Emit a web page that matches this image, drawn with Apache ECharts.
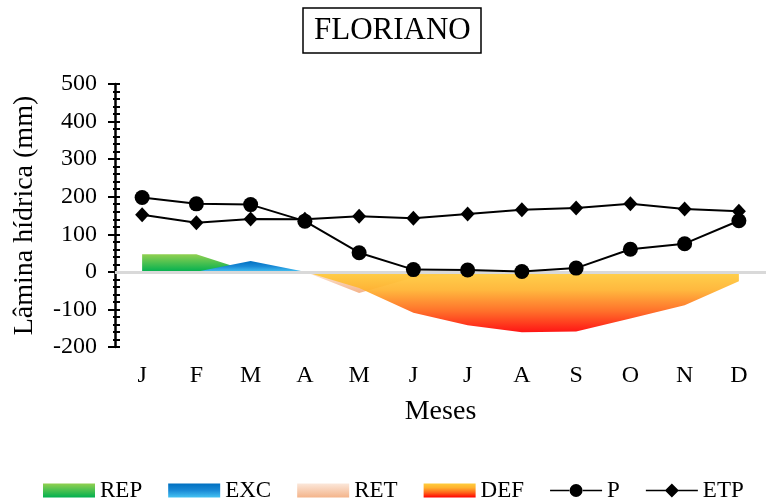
<!DOCTYPE html>
<html>
<head>
<meta charset="utf-8">
<script src="https://cdn.jsdelivr.net/npm/echarts@6/dist/echarts.min.js"></script>
<style>
html,body{margin:0;padding:0;background:#fff;}
#chart{width:766px;height:499px;}
</style>
</head>
<body>
<div id="chart"></div>
<script>
var months = ['J','F','M','A','M','J','J','A','S','O','N','D'];
var P   = [198,181,179,135,51,6,5,1,10,60,75,136];
var ETP = [152,131,141,140,148,143,154,165,170,181,167,161];
var REP = [47,47,0,0,0,0,0,0,0,0,0,0];
var EXC = [0,0,29,0,0,0,0,0,0,0,0,0];
var RET = [0,0,0,0,-56,-15,-5,0,0,0,0,0];
var DEF = [0,0,0,0,-43,-109,-142,-161,-159,-124,-89,-25];
var yTicks = {min:-200, max:500, interval:100};

var FONT = 'Liberation Serif';
function grad(stops){
  return new echarts.graphic.LinearGradient(0,0,0,1, stops.map(function(s){return {offset:s[0],color:s[1]};}));
}
var sREP = [[0,'#92D050'],[1,'#00B050']];
var sEXC = [[0,'#0070C0'],[0.5,'#1A8AD6'],[1,'#45C3F3']];
var sRET = [[0,'#FBE7DA'],[1,'#F4B48A']];
var sDEF = [[0,'#FFCD3C'],[0.3,'#FFB22E'],[0.65,'#FF6418'],[1,'#FF0000']];

function areaSeries(name, data, stops, z, opacity){
  var c = grad(stops);
  return {
    name:name, type:'line', data:data, symbol:'none', showSymbol:false,
    lineStyle:{width:0, color:'transparent'},
    itemStyle:{color:c},
    areaStyle:{color:c, opacity:opacity||1},
    z:z, silent:true
  };
}

var circleIcon = 'path://M0,6.2L19.2,6.2L19.2,7.8L0,7.8Z M32.8,6.2L52,6.2L52,7.8L32.8,7.8Z M19.5,7A6.5,6.5 0 1,1 32.5,7A6.5,6.5 0 1,1 19.5,7Z M0,0L0.01,0L0.01,0.01Z M52,14L51.99,14L51.99,13.99Z';
var diamondIcon = 'path://M0,6.2L20,6.2L20,7.8L0,7.8Z M32,6.2L52,6.2L52,7.8L32,7.8Z M26,0L33,7L26,14L19,7Z';

var chart = echarts.init(document.getElementById('chart'), null, {renderer:'canvas'});
var defS = areaSeries('DEF', DEF, sDEF, 4, 0.92);
defS.markLine = {
  silent:true, symbol:['none','none'], label:{show:false},
  lineStyle:{color:'#D9D9D9', width:3, type:'solid'},
  data:[{yAxis:0}], animation:false
};

chart.setOption({
  animation:false,
  backgroundColor:'#ffffff',
  title:{
    text:'FLORIANO', left:303, top:8,
    borderColor:'#000', borderWidth:1.5, padding:[7,11,7,11],
    textStyle:{fontFamily:FONT, fontSize:31, fontWeight:'normal', color:'#000'}
  },
  grid:{left:115, top:84, width:661, height:263, containLabel:false},
  legend:{
    left:38, top:474, itemWidth:52, itemHeight:14, itemGap:26,
    textStyle:{fontFamily:FONT, fontSize:23, color:'#000'},
    data:[
      {name:'REP', icon:'rect', itemStyle:{color:grad(sREP)}},
      {name:'EXC', icon:'rect', itemStyle:{color:grad(sEXC)}},
      {name:'RET', icon:'rect', itemStyle:{color:grad(sRET)}},
      {name:'DEF', icon:'rect', itemStyle:{color:grad(sDEF), opacity:1}},
      {name:'P', icon:circleIcon, itemStyle:{color:'#000'}},
      {name:'ETP', icon:diamondIcon, itemStyle:{color:'#000'}}
    ]
  },
  xAxis:{
    type:'category', data:months, boundaryGap:true,
    name:'Meses', nameLocation:'middle', nameGap:51,
    nameTextStyle:{fontFamily:FONT, fontSize:28, color:'#000'},
    axisLine:{show:false, onZero:false}, axisTick:{show:false},
    axisLabel:{fontFamily:FONT, fontSize:24, color:'#000', margin:17},
    splitLine:{show:false}
  },
  yAxis:[{
    type:'value', min:yTicks.min, max:yTicks.max, interval:yTicks.interval,
    name:'Lâmina hídrica (mm)', nameLocation:'middle', nameGap:76, nameRotate:90,
    nameTextStyle:{fontFamily:FONT, fontSize:28, color:'#000'},
    axisLine:{show:true, lineStyle:{color:'#000', width:2.5}},
    axisTick:{show:true, length:7, lineStyle:{color:'#000', width:2}},
    minorTick:{show:true, splitNumber:5, length:2, lineStyle:{color:'#000', width:2}},
    axisLabel:{fontFamily:FONT, fontSize:24, color:'#000', margin:18},
    splitLine:{show:false}
  },{
    type:'value', min:yTicks.min, max:yTicks.max, interval:yTicks.interval, position:'left',
    axisLine:{show:false},
    axisTick:{show:true, inside:true, length:5, lineStyle:{color:'#000', width:2}},
    minorTick:{show:true, splitNumber:5, length:5, lineStyle:{color:'#000', width:2}},
    axisLabel:{show:false}, splitLine:{show:false}
  }],
  series:[
    areaSeries('REP', REP, sREP, 2),
    areaSeries('EXC', EXC, sEXC, 2),
    areaSeries('RET', RET, sRET, 3),
    defS,
    {name:'P', type:'line', data:P, symbol:'circle', symbolSize:15,
      itemStyle:{color:'#000'}, lineStyle:{color:'#000', width:2}, z:6},
    {name:'ETP', type:'line', data:ETP, symbol:'diamond', symbolSize:[14,15],
      itemStyle:{color:'#000'}, lineStyle:{color:'#000', width:2}, z:6}
  ]
});
</script>
</body>
</html>
